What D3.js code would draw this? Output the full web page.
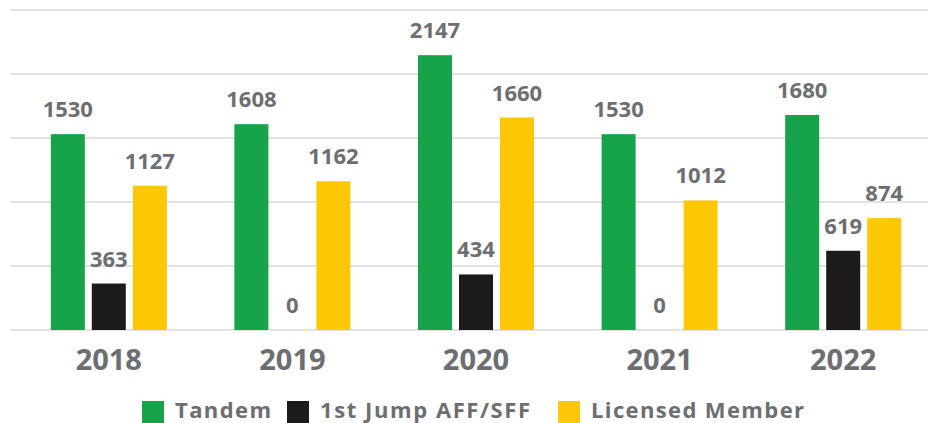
<!DOCTYPE html>
<html><head><meta charset="utf-8">
<script src="https://cdn.jsdelivr.net/npm/d3@7"></script>
<style>body{margin:0;background:#fff}svg{display:block}</style>
</head><body>
<svg id="c" width="928" height="423"></svg>
<script>
const years = ["2018","2019","2020","2021","2022"];
const seriesNames = ["Tandem","1st Jump AFF/SFF","Licensed Member"];
const tandem = [1530,1608,2147,1530,1680];
const firstJump = [363,0,434,0,619];
const licensed = [1127,1162,1660,1012,874];
const gridTicks = [0,500,1000,1500,2000,2500];
const colors = ["#17a34a","#1c1a1b","#fec807"];

const series = [tandem, firstJump, licensed];
const svg = d3.select("#c");
const font = "'Open Sans', sans-serif";
const gray = "#6d6e72";

const y = d3.scaleLinear().domain([0,2500]).range([330,10]);
const x0 = d3.scaleBand().domain(years).range([17,935]).paddingInner(0).paddingOuter(0);
const x1 = d3.scaleBand().domain(d3.range(3)).range([x0.bandwidth()/2-58, x0.bandwidth()/2+58]).paddingInner(7/41).paddingOuter(0);

// gridlines
svg.append("g").selectAll("line").data(gridTicks).join("line")
  .attr("x1",10).attr("x2",928)
  .attr("y1",d=>y(d)).attr("y2",d=>y(d))
  .attr("stroke","#e2e2e2").attr("stroke-width",2);

const g = svg.append("g");
years.forEach((yr,i)=>{
  const gg = g.append("g").attr("transform",`translate(${x0(yr)},0)`);
  series.forEach((s,k)=>{
    const v = s[i];
    gg.append("rect").attr("x",x1(k)).attr("width",x1.bandwidth())
      .attr("y",y(v)).attr("height",y(0)-y(v)).attr("fill",colors[k]);
    gg.append("text").attr("x",x1(k)+x1.bandwidth()/2).attr("y",y(v)-17)
      .attr("text-anchor","middle").attr("font-family",font).attr("font-weight",700)
      .attr("font-size",22).attr("fill",gray).text(v);
  });
});

// x axis labels
svg.append("g").selectAll("text").data(years).join("text")
  .attr("x",d=>x0(d)+x0.bandwidth()/2).attr("y",370)
  .attr("text-anchor","middle").attr("font-family",font).attr("font-weight",700)
  .attr("font-size",29).attr("fill",gray).text(d=>d);

// legend
const legX = [142, 287, 558];
const legW = [96, 210, 213];
const leg = svg.append("g");
seriesNames.forEach((n,k)=>{
  leg.append("rect").attr("x",legX[k]).attr("y",401).attr("width",22).attr("height",22).attr("fill",colors[k]);
  leg.append("text").attr("x",legX[k]+33).attr("y",418).attr("font-family",font).attr("font-weight",700)
    .attr("font-size",22).attr("fill",gray)
    .attr("textLength",legW[k]).attr("lengthAdjust","spacing").text(n);
});
</script>
</body></html>
